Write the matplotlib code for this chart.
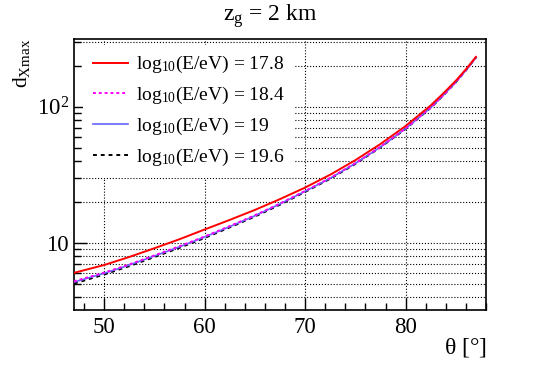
import matplotlib
matplotlib.use("Agg")
import matplotlib.pyplot as plt
from matplotlib.ticker import FixedLocator, LogLocator, NullFormatter, FixedFormatter

plt.rcParams['font.family'] = ['Liberation Serif', 'DejaVu Serif']
plt.rcParams['mathtext.fontset'] = 'custom'
plt.rcParams['mathtext.rm'] = 'Liberation Serif'
plt.rcParams['mathtext.it'] = 'Liberation Serif'

# zenith angle [deg]
theta = [47, 50, 52.5, 55, 57.5, 60, 62.5, 65, 67.5, 70, 72.5, 75, 77.5,
         80, 82.5, 83.75, 85, 86, 87]

# d_Xmax for each energy
d_178 = [6.0, 6.85, 7.85, 9.1, 10.6, 12.5, 14.7, 17.4, 20.9, 25.4, 31.6, 40.4,
         53.1, 72, 102, 125, 155, 188, 232]
d_184 = [5.2, 6.02, 6.92, 8.06, 9.41, 11.1, 13.25, 15.9, 19.4, 24.0, 29.9, 38.4,
         50.7, 69.1, 98.5, 121.3, 151.6, 185.2, 229.7]
d_190 = [5.13, 5.95, 6.85, 7.98, 9.32, 11.0, 13.12, 15.75, 19.25, 23.85, 29.75,
         38.2, 50.5, 68.9, 98.3, 121.1, 151.4, 185.0, 229.5]
d_196 = [5.0, 5.83, 6.72, 7.84, 9.17, 10.82, 12.95, 15.55, 19.0, 23.6, 29.5,
         37.9, 50.2, 68.5, 97.9, 120.8, 151.0, 184.6, 229.2]

labels = [r'log$_{10}$(E/eV) = 17.8', r'log$_{10}$(E/eV) = 18.4',
          r'log$_{10}$(E/eV) = 19', r'log$_{10}$(E/eV) = 19.6']

fig = plt.figure(figsize=(5.4, 3.66), dpi=100)
ax = fig.add_axes([0.137, 0.153, 0.763, 0.74])

l1, = ax.plot(theta, d_178, color='#ff0000', lw=1.4, ls='-', zorder=6)
l2, = ax.plot(theta, d_184, color='#ff00ff', lw=1.4, ls=(0, (1.5, 1.5)), zorder=5)
l3, = ax.plot(theta, d_190, color='#6464ff', lw=1.2, ls='-', zorder=4)
l4, = ax.plot(theta, d_196, color='black', lw=1.4, ls=(0, (2, 2)), zorder=3)

ax.set_yscale('log')
ax.set_xlim(47, 88)
ax.set_ylim(3.2, 313)

ax.xaxis.set_major_locator(FixedLocator([50, 60, 70, 80]))
ax.xaxis.set_minor_locator(FixedLocator([48, 52, 54, 56, 58, 62, 64, 66, 68,
                                         72, 74, 76, 78, 82, 84, 86, 88]))
ax.yaxis.set_major_locator(FixedLocator([10, 100]))
ax.yaxis.set_major_formatter(FixedFormatter(['10', r'10$^2$']))
ax.yaxis.set_minor_locator(LogLocator(base=10, subs=range(2, 10)))
ax.yaxis.set_minor_formatter(NullFormatter())

ax.tick_params(which='both', direction='in', top=False, right=False,
               labelsize=16.5, width=1)
ax.tick_params(which='major', length=9)
ax.tick_params(which='minor', length=5)
ax.tick_params(axis='x', pad=5)

ax.grid(True, which='major', axis='x', color='black', ls=':', lw=0.8)
ax.grid(True, which='both', axis='y', color='black', ls=':', lw=0.8)

for s in ax.spines.values():
    s.set_linewidth(1.2)

leg = ax.legend([l1, l2, l3, l4], labels, loc='upper left', fontsize=14,
                bbox_to_anchor=(0.022, 0.98), borderaxespad=0,
                frameon=True, facecolor='white', edgecolor='none', framealpha=1,
                handlelength=1.8, labelspacing=0.5,
                handletextpad=0.4, borderpad=0.5)
leg.set_zorder(10)

fig.text(0.5, 0.955, r'z$_\mathregular{g}$ = 2 km', ha='center', va='center', fontsize=17)
fig.text(0.04, 0.895, r'd$_\mathregular{Xmax}$', rotation=90, ha='center', va='top', fontsize=15.5)
fig.text(0.902, 0.02, r'$\mathregular{\theta}$ [°]', ha='right', va='bottom', fontsize=17)

fig.savefig('out.png', dpi=100)
